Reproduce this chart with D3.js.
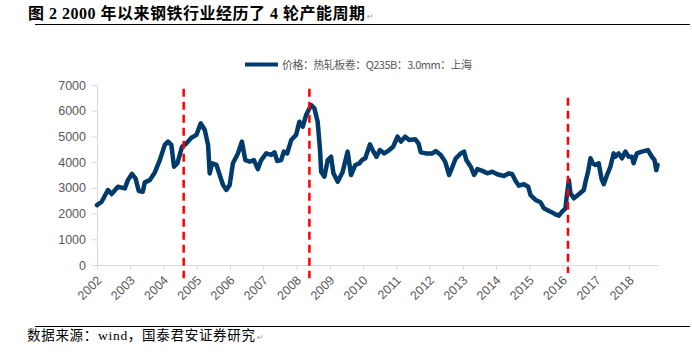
<!DOCTYPE html>
<meta charset="utf-8">
<script src="https://cdnjs.cloudflare.com/ajax/libs/d3/7.8.5/d3.min.js"></script>
<style>
  body { margin: 0; background: #fff; }
</style>
<svg id="chart" width="692" height="362"></svg>
<script>

// hot rolled coil price, Shanghai
const priceDates = [
  "2002-01-01","2002-02-21","2002-05-01","2002-06-10","2002-08-19","2002-11-03","2002-12-06",
  "2003-01-19","2003-02-28","2003-04-05","2003-05-19","2003-06-10","2003-08-04","2003-09-28","2003-11-22",
  "2004-01-15","2004-02-20","2004-03-28","2004-04-26","2004-06-02","2004-07-23","2004-09-09","2004-11-03","2004-12-28",
  "2005-02-14","2005-03-30","2005-05-05","2005-05-23","2005-06-18","2005-08-05","2005-09-10","2005-10-16","2005-11-22","2005-12-28",
  "2006-02-02","2006-03-29","2006-05-12","2006-06-18","2006-08-04","2006-09-20","2006-11-03","2006-12-10",
  "2007-02-03","2007-03-30","2007-05-05","2007-06-04","2007-07-17","2007-08-15","2007-09-21","2007-11-04","2007-12-28",
  "2008-02-02","2008-03-10","2008-04-16","2008-06-10","2008-07-16","2008-08-21","2008-09-17","2008-09-28","2008-11-03","2008-12-09",
  "2009-01-15","2009-02-10","2009-03-29","2009-05-23","2009-07-16","2009-08-22","2009-10-09","2009-11-22","2009-12-21",
  "2010-01-26","2010-03-18","2010-04-16","2010-05-29","2010-07-06","2010-08-22","2010-10-16","2010-11-28",
  "2011-01-15","2011-02-21","2011-04-09","2011-05-23","2011-07-28","2011-09-02","2011-09-28","2011-11-22",
  "2012-02-02","2012-03-10","2012-05-04","2012-06-21","2012-08-04","2012-09-09","2012-10-16","2012-12-10",
  "2013-01-15","2013-02-09","2013-03-29","2013-05-05","2013-06-10","2013-08-04","2013-09-27","2013-11-21",
  "2014-01-15","2014-03-29","2014-05-23","2014-06-28","2014-08-04","2014-09-09","2014-11-03","2014-12-20",
  "2015-01-15","2015-03-11","2015-05-05","2015-06-10","2015-08-22","2015-10-16","2015-11-22","2015-12-28",
  "2016-02-03","2016-02-14","2016-03-11","2016-03-29","2016-05-05","2016-06-28","2016-08-22","2016-09-10","2016-10-08","2016-11-03","2016-11-28","2016-12-28",
  "2017-02-02","2017-03-04","2017-03-29","2017-05-04","2017-06-10","2017-07-16","2017-08-03","2017-09-09","2017-10-15","2017-11-22","2017-12-28",
  "2018-02-02","2018-02-20","2018-03-28","2018-05-22","2018-07-27","2018-09-09","2018-10-08","2018-10-27","2018-11-10"
];
const priceValues = [
  2330,2460,2917,2760,3045,2980,3300,
  3540,3370,2880,2850,3215,3300,3600,4080,
  4670,4800,4670,3820,3955,4600,4730,4950,5060,
  5510,5250,4670,3560,3955,3890,3500,3110,2917,3110,
  3955,4340,4800,4080,4020,4080,3730,4080,
  4340,4280,4380,4045,4080,4410,4340,4860,5060,
  5570,5380,5830,6220,6090,5570,4410,3630,3435,4080,
  4210,3565,3240,3630,4410,3500,3890,3955,4080,
  4150,4690,4470,4210,4470,4340,4470,4600,
  4990,4800,4990,4860,4890,4730,4380,4340,
  4340,4430,4280,4020,3500,3820,4150,4340,
  4410,4080,3820,3500,3730,3660,3565,3630,
  3530,3460,3565,3530,3270,3085,3140,3045,
  2720,2530,2440,2205,2075,1970,1920,2075,
  2205,2595,3300,2790,2595,2750,2917,3240,3630,4150,3955,3890,
  3955,3370,3140,3500,3820,4340,4210,4340,4150,4410,4210,
  4210,3955,4340,4410,4470,4210,4080,3690,3890
];

// capacity cycle markers
const cycleDates = ["2004-08-10", "2008-05-22", "2016-03-01"];
const cycleTop = [6850, 6850, 6500];
const cycleBottom = [-520, -520, -310];

const yTicks = [0, 1000, 2000, 3000, 4000, 5000, 6000, 7000];
const yearTicks = d3.range(2002, 2019);

const titleText = "图 2 2000 年以来钢铁行业经历了 4 轮产能周期";
const legendText = "价格：热轧板卷：Q235B：3.0mm：上海";
const sourceText = "数据来源：wind，国泰君安证券研究";

const parse = d3.timeParse("%Y-%m-%d");
const series = priceDates.map((d, i) => ({ date: parse(d), value: priceValues[i] }));

const svg = d3.select("#chart");
const gray = "#595959";
const axisGray = "#d9d9d9";

const x = d3.scaleTime()
  .domain([parse("2002-01-01"), parse("2018-11-15")])
  .range([97, 658]);
const y = d3.scaleLinear()
  .domain([0, 7000])
  .range([265, 85]);

// title + rules
svg.append("text")
  .attr("x", 28).attr("y", 19)
  .attr("textLength", 337)
  .attr("lengthAdjust", "spacing")
  .style("font-family", "'Liberation Serif', 'Noto Sans CJK SC', serif")
  .style("font-weight", "bold")
  .style("font-size", "16px")
  .attr("fill", "#000")
  .text(titleText);
svg.append("text")
  .attr("x", 367).attr("y", 19)
  .style("font-family", "'DejaVu Sans', sans-serif")
  .style("font-size", "8px")
  .attr("fill", "#999")
  .text("↵");
svg.append("line")
  .attr("x1", 35).attr("x2", 690).attr("y1", 24.5).attr("y2", 24.5)
  .attr("stroke", "#000").attr("stroke-width", 1);
svg.append("line")
  .attr("x1", 35).attr("x2", 690).attr("y1", 326.5).attr("y2", 326.5)
  .attr("stroke", "#000").attr("stroke-width", 1);

// legend
svg.append("line")
  .attr("x1", 245).attr("x2", 278).attr("y1", 64.5).attr("y2", 64.5)
  .attr("stroke", "#003b6b").attr("stroke-width", 4);
svg.append("text")
  .attr("x", 282).attr("y", 68.5)
  .attr("textLength", 190)
  .attr("lengthAdjust", "spacing")
  .style("font-family", "'Noto Sans CJK SC', sans-serif")
  .style("font-size", "11px")
  .attr("fill", gray)
  .text(legendText);

// y axis
const yAxis = svg.append("g").attr("transform", "translate(97,0)")
  .call(d3.axisLeft(y).tickValues(yTicks).tickSize(5).tickPadding(6).tickFormat(d3.format("d")));
yAxis.select(".domain").attr("stroke", axisGray);
yAxis.selectAll(".tick line").attr("stroke", axisGray);
yAxis.selectAll("text")
  .attr("fill", gray)
  .style("font-family", "'Liberation Sans', Arial, sans-serif")
  .style("font-size", "12.5px");

// x axis
const xAxis = svg.append("g").attr("transform", "translate(0,265)")
  .call(d3.axisBottom(x)
    .tickValues(yearTicks.map(yr => new Date(yr, 0, 1)))
    .tickSize(5)
    .tickSizeOuter(0)
    .tickFormat(d3.timeFormat("%Y")));
xAxis.select(".domain").attr("stroke", axisGray);
xAxis.selectAll(".tick line").attr("stroke", axisGray);
xAxis.selectAll("text")
  .attr("fill", gray)
  .style("font-family", "'Liberation Sans', Arial, sans-serif")
  .style("font-size", "12.5px")
  .attr("text-anchor", "end")
  .attr("dy", null)
  .attr("y", 0)
  .attr("transform", "translate(5,16) rotate(-45)");

// price line
svg.append("path")
  .datum(series)
  .attr("fill", "none")
  .attr("stroke", "#003b6b")
  .attr("stroke-width", 4.5)
  .attr("stroke-linejoin", "round")
  .attr("stroke-linecap", "round")
  .attr("d", d3.line().x(d => x(d.date)).y(d => y(d.value)));

// cycle markers
svg.append("g")
  .selectAll("line")
  .data(cycleDates)
  .join("line")
    .attr("x1", d => x(parse(d)))
    .attr("x2", d => x(parse(d)))
    .attr("y1", (d, i) => y(cycleTop[i]))
    .attr("y2", (d, i) => y(cycleBottom[i]))
    .attr("stroke", "#ff0000")
    .attr("stroke-width", 2.5)
    .attr("stroke-dasharray", "8,5");

// source note
svg.append("text")
  .attr("x", 27).attr("y", 340)
  .attr("textLength", 228)
  .attr("lengthAdjust", "spacing")
  .style("font-family", "'Liberation Serif', 'Noto Sans CJK SC', serif")
  .style("font-size", "13.5px")
  .attr("fill", "#000")
  .text(sourceText);
svg.append("text")
  .attr("x", 257).attr("y", 340)
  .style("font-family", "'DejaVu Sans', sans-serif")
  .style("font-size", "8px")
  .attr("fill", "#999")
  .text("↵");

</script>
